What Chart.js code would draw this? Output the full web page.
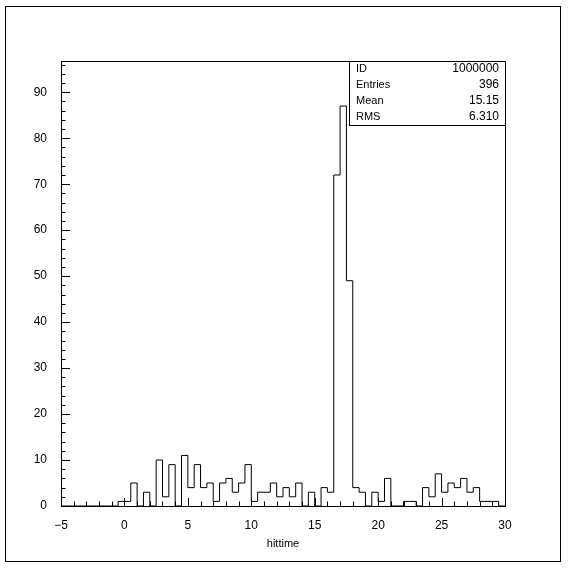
<!DOCTYPE html>
<html>
<head>
<meta charset="utf-8">
<script src="https://cdn.jsdelivr.net/npm/chart.js@4.4.0/dist/chart.umd.min.js"></script>
<style>
  html, body { margin: 0; padding: 0; background: #fff; }
  #wrap { width: 570px; height: 572px; position: relative; }
</style>
</head>
<body>
<div id="wrap"><canvas id="myChart"></canvas></div>
<script>
// histogram "hittime", 70 bins of 0.5 from -5 to 30
const binLow = -5;
const binWidth = 0.5;
const counts = [
  0, 0, 0, 0, 0, 0, 0, 0, 0, 1,    // -5 .. -0.5
  1, 5, 0, 3, 0, 10, 2, 9, 0, 11,  // 0 .. 4.5
  4, 9, 4, 5, 1, 5, 6, 3, 5, 9,    // 5 .. 9.5
  1, 3, 3, 5, 2, 4, 2, 5, 0, 3,    // 10 .. 14.5
  0, 4, 3, 72, 87, 49, 4, 3, 0, 3, // 15 .. 19.5
  1, 6, 0, 0, 1, 1, 0, 4, 2, 7,    // 20 .. 24.5
  3, 5, 4, 6, 3, 4, 1, 1, 1, 0     // 25 .. 29.5
];
const xTicks = [-5, 0, 5, 10, 15, 20, 25, 30];
const yTicks = [0, 10, 20, 30, 40, 50, 60, 70, 80, 90];
const statNames = ['ID', 'Entries', 'Mean', 'RMS'];
const statValues = ['1000000', '396', '15.15', '6.310'];

// left edge of every bin + closing point
let points = counts.map((c, i) => ({x: binLow + i * binWidth, y: c}));
points.push({x: binLow + counts.length * binWidth, y: 0});

const textFont = '11px "Liberation Sans", Arial, sans-serif';
const numFont = '12px "Liberation Sans", Arial, sans-serif';

// frame, inward ticks, stats box, page border
const pawFrame = {
  id: 'pawFrame',
  afterDraw(chart) {
    const ctx = chart.ctx;
    const a = chart.chartArea;
    const xs = chart.scales.x, ys = chart.scales.y;
    ctx.save();
    ctx.strokeStyle = '#000';
    ctx.lineWidth = 1;
    ctx.strokeRect(Math.round(a.left) + 0.5, Math.round(a.top) + 0.5,
      Math.round(a.right - a.left), Math.round(a.bottom - a.top));

    ctx.beginPath();
    for (let v = -5; v <= 30; v += 1) {
      const px = Math.round(xs.getPixelForValue(v)) + 0.5;
      const len = (v % 5 === 0) ? 8 : 4.5;
      ctx.moveTo(px, a.bottom);
      ctx.lineTo(px, a.bottom - len);
    }
    for (let v = 0; v <= 96; v += 2) {
      const py = Math.round(ys.getPixelForValue(v)) + 0.5;
      const len = (v % 10 === 0) ? 9 : 4.5;
      ctx.moveTo(a.left, py);
      ctx.lineTo(a.left + len, py);
    }
    ctx.stroke();

    // statistics box, top right
    const bx = 349, bh = 64;
    ctx.fillStyle = '#fff';
    ctx.fillRect(bx + 0.5, a.top + 0.5, a.right - bx, bh);
    ctx.strokeRect(bx + 0.5, Math.round(a.top) + 0.5, Math.round(a.right) - bx, bh);
    ctx.fillStyle = '#000';
    ctx.textBaseline = 'middle';
    for (let i = 0; i < statNames.length; i++) {
      const ty = a.top + 8 + i * 16;
      ctx.font = textFont;
      ctx.textAlign = 'left';
      ctx.fillText(statNames[i], bx + 7, ty);
      ctx.font = numFont;
      ctx.textAlign = 'right';
      ctx.fillText(statValues[i], a.right - 6, ty);
    }

    ctx.strokeRect(5.5, 6.5, 555, 555);
    ctx.restore();
  }
};

const ctx = document.getElementById('myChart');

new Chart(ctx, {
  type: 'line',
  data: {
    datasets: [{
      label: 'hittime',
      data: points,
      stepped: true,
      borderColor: '#000',
      borderWidth: 1,
      pointRadius: 0,
      fill: false,
    }]
  },
  options: {
    responsive: true,
    maintainAspectRatio: false,
    animation: false,
    layout: {
      padding: {left: 0, top: 61, right: 65, bottom: 0}
    },
    plugins: {
      legend: { display: false },
      tooltip: { enabled: false },
    },
    scales: {
      x: {
        type: 'linear',
        min: -5,
        max: 30,
        afterFit(scale) { scale.height = 66; },
        afterBuildTicks(scale) { scale.ticks = xTicks.map(v => ({value: v})); },
        grid: { display: false },
        border: { display: false },
        ticks: {
          autoSkip: false,
          maxRotation: 0,
          padding: 4,
          color: '#000',
          font: { family: '"Liberation Sans", Arial, sans-serif', size: 12 },
          callback: v => String(v).replace('-', '\u2212'),
        },
        title: {
          display: true,
          text: 'hittime',
          color: '#000',
          font: { family: '"Liberation Sans", Arial, sans-serif', size: 11 },
          padding: { top: 0, bottom: 21 },
        },
      },
      y: {
        min: 0,
        max: 96.8,
        afterFit(scale) { scale.width = 61; },
        afterBuildTicks(scale) { scale.ticks = yTicks.map(v => ({value: v})); },
        grid: { display: false },
        border: { display: false },
        ticks: {
          autoSkip: false,
          padding: 6,
          color: '#000',
          font: { family: '"Liberation Sans", Arial, sans-serif', size: 12 },
        },
      },
    }
  },
  plugins: [pawFrame]
});
</script>
</body>
</html>
